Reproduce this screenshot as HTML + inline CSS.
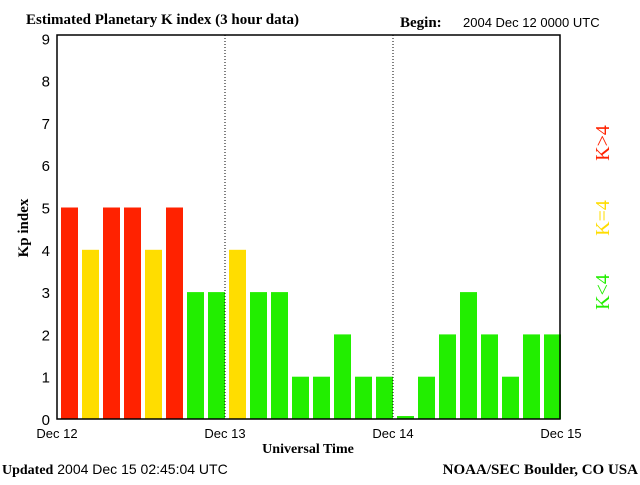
<!DOCTYPE html>
<html><head><meta charset="utf-8"><style>
body{margin:0;background:#fff;}
svg text{font-family:"Liberation Sans",sans-serif;}
svg text.serif{font-family:"Liberation Serif",serif;font-weight:bold;}
</style></head><body>
<svg id="c" width="640" height="480" viewBox="0 0 640 480">
<text class="serif" x="26" y="24" font-size="15">Estimated Planetary K index (3 hour data)</text>
<text class="serif" x="400" y="27" font-size="15">Begin:</text>
<text x="463" y="27" font-size="13">2004 Dec 12 0000 UTC</text>
<g id="bars"></g>
<g id="grid"></g>
<rect x="57" y="35" width="503" height="384" fill="none" stroke="#000" stroke-width="1.5"/>
<text class="serif" transform="translate(28,228) rotate(-90)" text-anchor="middle" font-size="15">Kp index</text>
<text class="serif" x="308" y="453" text-anchor="middle" font-size="14">Universal Time</text>
<text x="2" y="474" font-size="14"><tspan style="font-family:'Liberation Serif',serif;font-weight:bold">Updated</tspan> 2004 Dec 15 02:45:04 UTC</text>
<text class="serif" x="638" y="474" text-anchor="end" font-size="15">NOAA/SEC Boulder, CO USA</text>
<text class="serif" transform="translate(609,143) rotate(-90)" text-anchor="middle" fill="#ff2200" font-size="20" style="font-weight:normal">K&gt;4</text>
<text class="serif" transform="translate(609,218) rotate(-90)" text-anchor="middle" fill="#ffdd00" font-size="20" style="font-weight:normal">K=4</text>
<text class="serif" transform="translate(609,292) rotate(-90)" text-anchor="middle" fill="#22ee00" font-size="20" style="font-weight:normal">K&lt;4</text>
</svg>
<script>
const values=[5,4,5,5,4,5,3,3,4,3,3,1,1,2,1,1,0.07,1,2,3,2,1,2,2];
const yTicks=[0,1,2,3,4,5,6,7,8,9];
const xLabels=["Dec 12","Dec 13","Dec 14","Dec 15"];
const NS="http://www.w3.org/2000/svg";
const svg=document.getElementById('c');
const bars=document.getElementById('bars');
const grid=document.getElementById('grid');
function y(v){return 419-42.3*v;}
function x(i){return 57+i*21;}
function mk(t,a,p){const e=document.createElementNS(NS,t);for(const k in a)e.setAttribute(k,a[k]);(p||svg).appendChild(e);return e;}
values.forEach((v,i)=>{
  const col=v>4?'#ff2200':(v==4?'#ffdd00':'#22ee00');
  const r=mk('rect',{x:x(i)+4,y:y(v),width:17,height:419-y(v),fill:col},bars);
  
  
});
yTicks.forEach(t=>{
  const l=mk('text',{x:50,y:y(t)+6,'text-anchor':'end','font-size':'15'});
  l.textContent=t;
  
  
});
xLabels.forEach((s,i)=>{
  const l=mk('text',{x:x(i*8),y:438,'text-anchor':'middle','font-size':'13'});
  l.textContent=s;
  
  
  if(i>0&&i<3){
    const g=mk('line',{x1:x(i*8),x2:x(i*8),y1:35,y2:419,stroke:'#000','stroke-dasharray':'1,2'},grid);
    
    
  }
});
</script>
</body></html>
